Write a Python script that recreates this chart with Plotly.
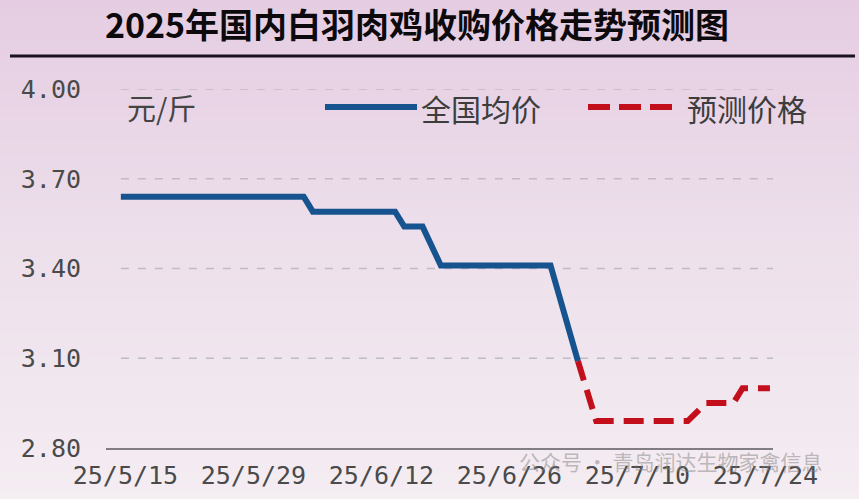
import plotly.graph_objects as go
import pandas as pd

# ---------------- data ----------------
title_text = "2025年国内白羽肉鸡收购价格走势预测图"
unit_label = "元/斤"
series_names = ["全国均价", "预测价格"]
watermark_text = "公众号 · 青岛润达生物家禽信息"

actual_dates = ["2025-05-15", "2025-06-04", "2025-06-05", "2025-06-14", "2025-06-15",
                "2025-06-17", "2025-06-19", "2025-07-01", "2025-07-04"]
actual_prices = [3.64, 3.64, 3.59, 3.59, 3.54, 3.54, 3.41, 3.41, 3.09]

forecast_dates = ["2025-07-04", "2025-07-06", "2025-07-16", "2025-07-18",
                  "2025-07-21", "2025-07-22", "2025-07-25"]
forecast_prices = [3.09, 2.89, 2.89, 2.95, 2.95, 3.00, 3.00]

x_tick_dates = ["2025-05-15", "2025-05-29", "2025-06-12", "2025-06-26", "2025-07-10", "2025-07-24"]
x_tick_labels = ["25/5/15", "25/5/29", "25/6/12", "25/6/26", "25/7/10", "25/7/24"]
y_tick_values = [2.80, 3.10, 3.40, 3.70, 4.00]
y_tick_labels = ["2.80", "3.10", "3.40", "3.70", "4.00"]

# ---------------- styling ----------------
W, H = 859, 499
ML, MR, MT, MB = 106, 86, 89, 51
PW, PH = W - ML - MR, H - MT - MB

BLUE = "#17548f"
RED = "#c20f1b"
MONO = "DejaVu Sans Mono"
CJK = "Noto Sans CJK SC"

x_range = [pd.Timestamp("2025-05-13 09:00"), pd.Timestamp("2025-07-25 08:00")]
tick_pos = [pd.Timestamp(d) + pd.Timedelta(hours=12) for d in x_tick_dates]


def px_x(p):
    return (p - ML) / PW


def px_y(p):
    return (H - MB - p) / PH


fig = go.Figure()

fig.add_trace(go.Scatter(
    x=pd.to_datetime(actual_dates), y=actual_prices, mode="lines",
    name=series_names[0], line=dict(color=BLUE, width=6), showlegend=False,
))
fig.add_trace(go.Scatter(
    x=pd.to_datetime(forecast_dates), y=forecast_prices, mode="lines",
    name=series_names[1], line=dict(color=RED, width=6, dash="20px,10px"), showlegend=False,
))

shapes = []
# background gradient bands
stops = [(0, (229, 204, 226)), (250, (237, 224, 235)), (499, (244, 237, 242))]
n_bands = 60
for i in range(n_bands):
    y0p = H * i / n_bands
    y1p = H * (i + 1) / n_bands
    ym = (y0p + y1p) / 2
    for (a, ca), (b, cb) in zip(stops[:-1], stops[1:]):
        if a <= ym <= b:
            t = (ym - a) / (b - a)
            c = tuple(int(round(ca[k] + (cb[k] - ca[k]) * t)) for k in range(3))
            break
    shapes.append(dict(type="rect", xref="paper", yref="paper", layer="below",
                       x0=px_x(-2), x1=px_x(W + 2), y0=px_y(y1p + 0.5), y1=px_y(y0p - 0.5),
                       fillcolor="rgb(%d,%d,%d)" % c, line=dict(width=0)))

# dashed gridlines
for v in y_tick_values[1:]:
    shapes.append(dict(type="line", xref="x", yref="y", layer="below",
                       x0=pd.Timestamp(actual_dates[0]), x1=x_range[1], y0=v, y1=v,
                       line=dict(color="rgb(192,186,196)", width=1.5, dash="8px,9px")))

# title underline
shapes.append(dict(type="line", xref="paper", yref="paper",
                   x0=px_x(10), x1=px_x(855), y0=px_y(56), y1=px_y(56),
                   line=dict(color="#1b1220", width=3)))

# legend samples
shapes.append(dict(type="line", xref="paper", yref="paper",
                   x0=px_x(325), x1=px_x(417), y0=px_y(107), y1=px_y(107),
                   line=dict(color=BLUE, width=6)))
shapes.append(dict(type="line", xref="paper", yref="paper",
                   x0=px_x(588), x1=px_x(672), y0=px_y(107), y1=px_y(107),
                   line=dict(color=RED, width=6, dash="22px,9px")))

annotations = [
    dict(text=unit_label, xref="paper", yref="paper", x=px_x(125), y=px_y(107),
         xanchor="left", yanchor="middle", showarrow=False,
         font=dict(family=CJK, size=29, color="#444444")),
    dict(text=series_names[0], xref="paper", yref="paper", x=px_x(419), y=px_y(108),
         xanchor="left", yanchor="middle", showarrow=False,
         font=dict(family=CJK, size=30, color="#3d3d3d")),
    dict(text=series_names[1], xref="paper", yref="paper", x=px_x(685), y=px_y(108),
         xanchor="left", yanchor="middle", showarrow=False,
         font=dict(family=CJK, size=30, color="#3d3d3d")),
    dict(text=watermark_text, xref="paper", yref="paper", x=px_x(670), y=px_y(461),
         xanchor="center", yanchor="middle", showarrow=False,
         font=dict(family=CJK, size=21, color="rgba(130,130,130,0.5)")),
]

fig.update_layout(
    width=W, height=H,
    margin=dict(l=ML, r=MR, t=MT, b=MB, autoexpand=False),
    paper_bgcolor="rgb(236,222,233)",
    plot_bgcolor="rgba(0,0,0,0)",
    title=dict(text="<b>" + title_text + "</b>", x=417 / W, xref="container", xanchor="center",
               y=1 - 26 / H, yref="container", yanchor="middle",
               font=dict(family=CJK, size=34, color="#0d0a0d")),
    shapes=shapes,
    annotations=annotations,
    showlegend=False,
    xaxis=dict(
        type="date", range=x_range, tickmode="array", tickvals=tick_pos, ticktext=x_tick_labels,
        showgrid=False, zeroline=False, showline=True, linecolor="rgb(130,124,132)", linewidth=2,
        ticks="", ticklabelstandoff=4, automargin=False,
        tickfont=dict(family=MONO, size=25, color="#4a4a4a"),
    ),
    yaxis=dict(
        range=[2.80, 4.00], tickmode="array", tickvals=y_tick_values, ticktext=y_tick_labels,
        showgrid=False, zeroline=False, showline=False, ticks="", ticklabelstandoff=24,
        automargin=False,
        tickfont=dict(family=MONO, size=25, color="#4a4a4a"),
    ),
)

fig.write_html(
    "out.html",
    config={"displayModeBar": False},
    post_script="document.body.style.margin='0px';document.body.style.padding='0px';"
                "document.documentElement.style.overflow='hidden';",
)
